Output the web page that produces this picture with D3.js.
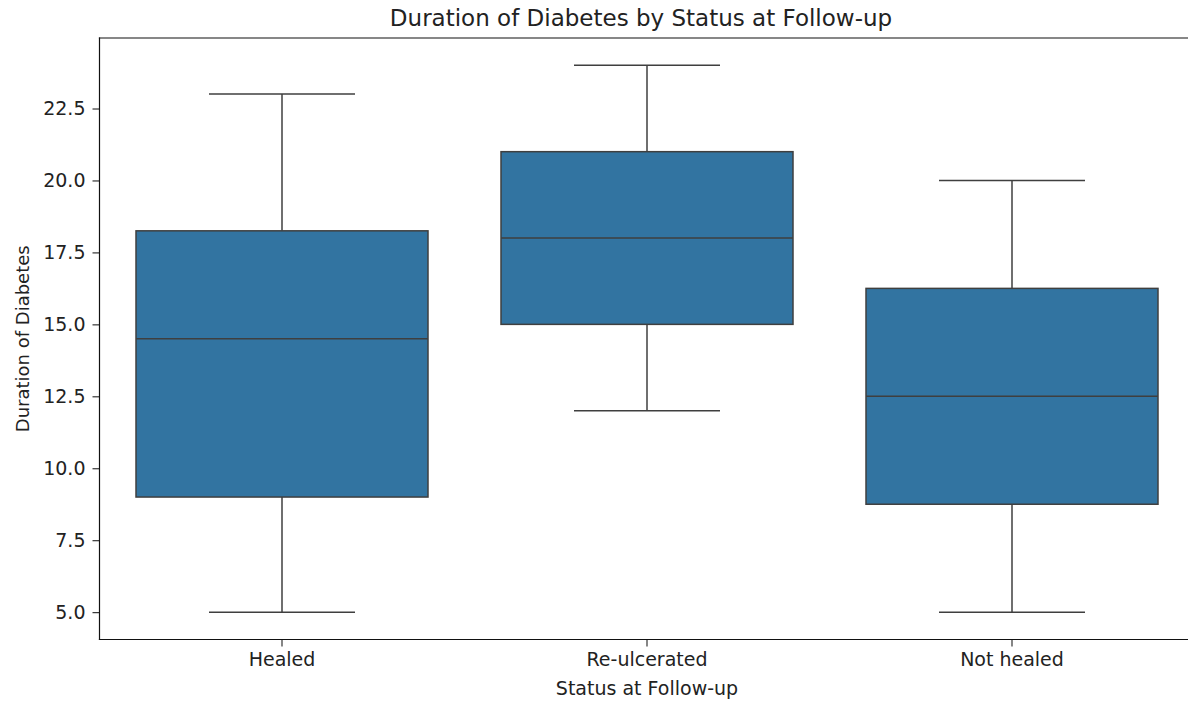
<!DOCTYPE html>
<html>
<head>
<meta charset="utf-8">
<script src="https://cdn.jsdelivr.net/npm/d3@7"></script>
<style>
  html, body { margin: 0; padding: 0; background: #fff; overflow: hidden; }
  svg { display: block; font-family: "DejaVu Sans", sans-serif; }
</style>
</head>
<body>
<svg id="chart" width="1188" height="702"></svg>
<script>
// Five-number summaries of diabetes duration per follow-up status
const categories = ["Healed", "Re-ulcerated", "Not healed"];
const whiskerLow  = [5, 12, 5];
const quartile1   = [9, 15, 8.75];
const medians     = [14.5, 18, 12.5];
const quartile3   = [18.25, 21, 16.25];
const whiskerHigh = [23, 24, 20];
const yTicks = [5.0, 7.5, 10.0, 12.5, 15.0, 17.5, 20.0, 22.5];

const boxes = categories.map((c, i) => ({
  name: c, lo: whiskerLow[i], q1: quartile1[i], med: medians[i],
  q3: quartile3[i], hi: whiskerHigh[i]
}));

const svg = d3.select("#chart");
// the axes run past the right edge of the canvas
const plot = { left: 99.5, top: 38, right: 1194.5, bottom: 639.5 };

const x = d3.scaleBand().domain(categories).range([plot.left, plot.right]).padding(0);
const y = d3.scaleLinear().domain([4.05, 24.95]).range([plot.bottom, plot.top]);

const boxW = x.bandwidth() * 0.8;
const capW = x.bandwidth() * 0.4;
const edge = "#3f3f3f";

const g = svg.append("g");
const box = g.selectAll("g.box").data(boxes).enter().append("g").attr("class", "box")
  .attr("transform", d => `translate(${x(d.name) + x.bandwidth() / 2},0)`);

// whiskers
box.append("line").attr("x1", 0).attr("x2", 0)
  .attr("y1", d => y(d.lo)).attr("y2", d => y(d.q1))
  .attr("stroke", edge).attr("stroke-width", 1.5);
box.append("line").attr("x1", 0).attr("x2", 0)
  .attr("y1", d => y(d.q3)).attr("y2", d => y(d.hi))
  .attr("stroke", edge).attr("stroke-width", 1.5);
// caps
box.append("line").attr("x1", -capW / 2).attr("x2", capW / 2)
  .attr("y1", d => y(d.lo)).attr("y2", d => y(d.lo))
  .attr("stroke", edge).attr("stroke-width", 1.5);
box.append("line").attr("x1", -capW / 2).attr("x2", capW / 2)
  .attr("y1", d => y(d.hi)).attr("y2", d => y(d.hi))
  .attr("stroke", edge).attr("stroke-width", 1.5);
// boxes
box.append("rect").attr("x", -boxW / 2).attr("width", boxW)
  .attr("y", d => y(d.q3)).attr("height", d => y(d.q1) - y(d.q3))
  .attr("fill", "#3274a1").attr("stroke", edge).attr("stroke-width", 1.5);
// medians
box.append("line").attr("x1", -boxW / 2).attr("x2", boxW / 2)
  .attr("y1", d => y(d.med)).attr("y2", d => y(d.med))
  .attr("stroke", edge).attr("stroke-width", 1.5);

// axes
const yAxis = d3.axisLeft(y).tickValues(yTicks).tickFormat(d3.format(".1f"))
  .tickSize(7).tickPadding(7);
const yg = svg.append("g").attr("transform", `translate(${plot.left},0)`).call(yAxis);
yg.select(".domain").remove();
yg.selectAll("text").attr("font-size", 19).attr("fill", "#222")
  .attr("font-family", "DejaVu Sans");
yg.selectAll("line").attr("stroke", "#222").attr("stroke-width", 1.1);

const xAxis = d3.axisBottom(x).tickSize(7).tickPadding(6);
const xg = svg.append("g").attr("transform", `translate(0,${plot.bottom})`).call(xAxis);
xg.select(".domain").remove();
xg.selectAll("text").attr("font-size", 19).attr("fill", "#222")
  .attr("font-family", "DejaVu Sans");
xg.selectAll("line").attr("stroke", "#222").attr("stroke-width", 1.1);

// frame: left, top and bottom spines
const spine = (x1, y1, x2, y2) => svg.append("line")
  .attr("x1", x1).attr("y1", y1).attr("x2", x2).attr("y2", y2)
  .attr("stroke", "#111").attr("stroke-width", 1.2).attr("stroke-linecap", "square");
spine(plot.left, plot.top, plot.right, plot.top);
spine(plot.left, plot.bottom, plot.right, plot.bottom);
spine(plot.left, plot.top, plot.left, plot.bottom);

// titles
svg.append("text").attr("x", 641).attr("y", 26)
  .attr("text-anchor", "middle").attr("font-size", 23).attr("fill", "#222")
  .text("Duration of Diabetes by Status at Follow-up");
svg.append("text").attr("x", (plot.left + plot.right) / 2).attr("y", 695)
  .attr("text-anchor", "middle").attr("font-size", 19).attr("fill", "#222")
  .text("Status at Follow-up");
svg.append("text")
  .attr("transform", `translate(28.5,${(plot.top + plot.bottom) / 2}) rotate(-90)`)
  .attr("text-anchor", "middle").attr("font-size", 18).attr("fill", "#222")
  .text("Duration of Diabetes");
</script>
</body>
</html>
